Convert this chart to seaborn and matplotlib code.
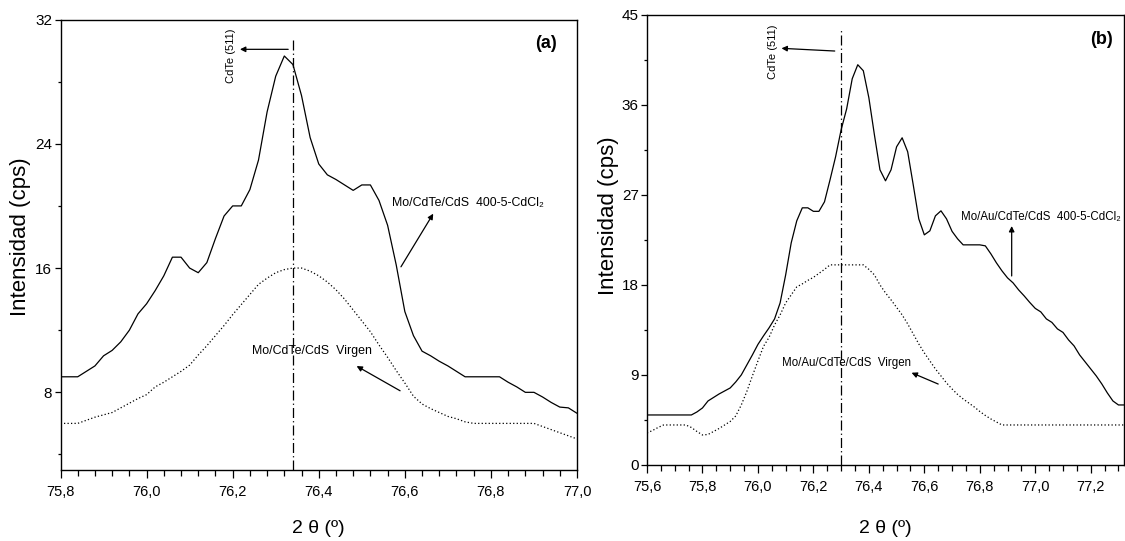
import matplotlib
matplotlib.use("Agg")
import matplotlib.pyplot as plt
from matplotlib import font_manager
from matplotlib.ticker import MultipleLocator, FuncFormatter
import pandas as pd
import seaborn as sns

# ---------------- data: XRD scans around the CdTe (511) reflection ----------------
two_theta_a = [
    75.80, 75.82, 75.84, 75.86, 75.88, 75.90, 75.92, 75.94, 75.96, 75.98,
    76.00, 76.02, 76.04, 76.06, 76.08, 76.10, 76.12, 76.14, 76.16, 76.18,
    76.20, 76.22, 76.24, 76.26, 76.28, 76.30, 76.32, 76.34, 76.36, 76.38,
    76.40, 76.42, 76.44, 76.46, 76.48, 76.50, 76.52, 76.54, 76.56, 76.58,
    76.60, 76.62, 76.64, 76.66, 76.68, 76.70, 76.72, 76.74, 76.76, 76.78,
    76.80, 76.82, 76.84, 76.86, 76.88, 76.90, 76.92, 76.94, 76.96, 76.98, 77.00,
]
counts_a_annealed = [
    9.0, 9.0, 9.0, 9.35, 9.7, 10.35, 10.7, 11.25, 12.0, 13.05,
    13.7, 14.55, 15.5, 16.7, 16.7, 16.0, 15.7, 16.35, 17.9, 19.35,
    20.0, 20.0, 21.05, 22.95, 26.05, 28.35, 29.65, 29.1, 27.1, 24.4,
    22.7, 22.0, 21.7, 21.35, 21.0, 21.35, 21.35, 20.35, 18.75, 16.2,
    13.2, 11.65, 10.65, 10.35, 10.0, 9.7, 9.35, 9.0, 9.0, 9.0,
    9.0, 9.0, 8.65, 8.35, 8.0, 8.0, 7.7, 7.35, 7.05, 7.0, 6.65,
]
counts_a_virgin = [
    6.0, 6.0, 6.0, 6.2, 6.4, 6.55, 6.7, 7.0, 7.3, 7.6,
    7.85, 8.35, 8.65, 9.0, 9.35, 9.75, 10.4, 11.0, 11.65, 12.3,
    13.0, 13.65, 14.3, 14.95, 15.35, 15.7, 15.9, 16.0, 16.0, 15.8,
    15.5, 15.1, 14.6, 14.0, 13.3, 12.6, 11.9, 11.05, 10.25, 9.4,
    8.6, 7.75, 7.25, 6.95, 6.7, 6.45, 6.3, 6.1, 6.0, 6.0,
    6.0, 6.0, 6.0, 6.0, 6.0, 6.0, 5.8, 5.6, 5.4, 5.2, 5.0,
]

two_theta_b = [
    75.60, 75.62, 75.64, 75.66, 75.68, 75.70, 75.72, 75.74, 75.76, 75.78,
    75.80, 75.82, 75.84, 75.86, 75.88, 75.90, 75.92, 75.94, 75.96, 75.98,
    76.00, 76.02, 76.04, 76.06, 76.08, 76.10, 76.12, 76.14, 76.16, 76.18,
    76.20, 76.22, 76.24, 76.26, 76.28, 76.30, 76.32, 76.34, 76.36, 76.38,
    76.40, 76.42, 76.44, 76.46, 76.48, 76.50, 76.52, 76.54, 76.56, 76.58,
    76.60, 76.62, 76.64, 76.66, 76.68, 76.70, 76.72, 76.74, 76.76, 76.78,
    76.80, 76.82, 76.84, 76.86, 76.88, 76.90, 76.92, 76.94, 76.96, 76.98,
    77.00, 77.02, 77.04, 77.06, 77.08, 77.10, 77.12, 77.14, 77.16, 77.18,
    77.20, 77.22, 77.24, 77.26, 77.28, 77.30, 77.32,
]
counts_b_annealed = [
    5.0, 5.0, 5.0, 5.0, 5.0, 5.0, 5.0, 5.0, 5.0, 5.3,
    5.7, 6.4, 6.75, 7.1, 7.4, 7.7, 8.3, 9.0, 10.0, 11.0,
    12.05, 12.9, 13.7, 14.6, 16.2, 19.0, 22.2, 24.4, 25.7, 25.7,
    25.35, 25.35, 26.3, 28.5, 30.8, 33.5, 35.6, 38.6, 40.0, 39.4,
    36.7, 33.0, 29.5, 28.4, 29.5, 31.8, 32.7, 31.3, 28.0, 24.6,
    23.0, 23.4, 24.9, 25.4, 24.6, 23.35, 22.6, 22.0, 22.0, 22.0,
    22.0, 21.9, 21.1, 20.2, 19.4, 18.7, 18.2, 17.5, 16.9, 16.25,
    15.65, 15.3, 14.6, 14.25, 13.6, 13.25, 12.5, 11.9, 11.0, 10.3,
    9.6, 8.9, 8.1, 7.2, 6.4, 6.0, 6.0,
]
counts_b_virgin = [
    3.2, 3.45, 3.75, 4.0, 4.0, 4.0, 4.0, 4.0, 3.75, 3.35,
    3.0, 3.05, 3.35, 3.65, 4.0, 4.35, 4.9, 6.0, 7.35, 8.9,
    10.4, 11.85, 12.75, 14.0, 15.0, 16.2, 17.0, 17.8, 18.1, 18.45,
    18.75, 19.15, 19.55, 20.0, 20.0, 20.0, 20.0, 20.0, 20.0, 20.0,
    19.55, 19.0, 18.0, 17.2, 16.5, 15.75, 15.0, 14.1, 13.1, 12.1,
    11.2, 10.4, 9.6, 8.9, 8.2, 7.6, 7.05, 6.6, 6.2, 5.8,
    5.35, 4.95, 4.6, 4.3, 4.0, 4.0, 4.0, 4.0, 4.0, 4.0,
    4.0, 4.0, 4.0, 4.0, 4.0, 4.0, 4.0, 4.0, 4.0, 4.0,
    4.0, 4.0, 4.0, 4.0, 4.0, 4.0, 4.0,
]

peak_position_a = 76.34
peak_position_b = 76.30

# ---------------- style ----------------
sns.set_style("ticks")
plt.rcParams["font.family"] = ["Liberation Sans", "DejaVu Sans"]
plt.rcParams["axes.edgecolor"] = "black"
plt.rcParams["axes.linewidth"] = 1.0
plt.rcParams["text.color"] = "black"
plt.rcParams["axes.labelcolor"] = "black"
plt.rcParams["xtick.color"] = "black"
plt.rcParams["ytick.color"] = "black"


def installed(family):
    try:
        font_manager.findfont(font_manager.FontProperties(family=family),
                              fallback_to_default=False)
        return True
    except ValueError:
        return False


if installed("Liberation Sans Narrow"):
    note_family = ["Liberation Sans Narrow", "DejaVu Sans"]
    note_scale = 1.2
else:
    note_family = ["Liberation Sans", "DejaVu Sans"]
    note_scale = 1.0

comma = FuncFormatter(lambda v, _: f"{v:.1f}".replace(".", ","))
solid = dict(color="black", linewidth=0.9)
dotted = dict(color="black", linewidth=0.9, linestyle=(0, (1, 1.8)))
dashdot = (0, (8, 2.5, 1, 2.5))
arrow = dict(arrowstyle="-|>", color="black", lw=0.9, mutation_scale=8,
             shrinkA=0, shrinkB=0)

W, H = 1125, 541
fig = plt.figure(figsize=(W / 100, H / 100), dpi=100)
ax_a = fig.add_axes([60.5 / W, (H - 470) / H, 516.5 / W, 450.5 / H])
ax_b = fig.add_axes([647 / W, (H - 465) / H, 477 / W, 450.3 / H])


def draw_scan(ax, x, annealed, virgin):
    scan = pd.DataFrame({"two_theta": x, "annealed": annealed, "virgin": virgin})
    sns.lineplot(data=scan, x="two_theta", y="annealed", ax=ax,
                 estimator=None, sort=False, **solid)
    sns.lineplot(data=scan, x="two_theta", y="virgin", ax=ax,
                 estimator=None, sort=False, **dotted)


def style_axes(ax, xlim, ylim, xmajor, xminor, ymajor, yminor, ylab_xy, xlab_y):
    ax.set_xlim(*xlim)
    ax.set_ylim(*ylim)
    ax.xaxis.set_major_locator(MultipleLocator(xmajor))
    ax.xaxis.set_minor_locator(MultipleLocator(xminor))
    ax.yaxis.set_major_locator(MultipleLocator(ymajor))
    ax.yaxis.set_minor_locator(MultipleLocator(yminor))
    ax.xaxis.set_major_formatter(comma)
    ax.tick_params(axis="x", which="major", direction="out", length=6,
                   width=0.9, labelsize=10.5, pad=5, colors="black")
    ax.tick_params(axis="x", which="minor", direction="out", length=4,
                   width=0.9, colors="black")
    ax.tick_params(axis="y", which="major", direction="out", length=4,
                   width=0.9, labelsize=11, pad=2, colors="black")
    ax.tick_params(axis="y", which="minor", direction="out", length=2.5,
                   width=0.9, colors="black")
    for side in ("top", "right", "left", "bottom"):
        ax.spines[side].set_visible(True)
        ax.spines[side].set_linewidth(1.0)
        ax.spines[side].set_color("black")
    ax.set_xlabel("2 θ (º)", fontsize=14, color="black")
    ax.set_ylabel("Intensidad (cps)", fontsize=16, color="black")
    ax.xaxis.label.set_va("center")
    ax.yaxis.label.set_va("center")
    ax.xaxis.set_label_coords(0.5, xlab_y)
    ax.yaxis.set_label_coords(*ylab_xy)


# ---------------- panel (a) ----------------
draw_scan(ax_a, two_theta_a, counts_a_annealed, counts_a_virgin)
style_axes(ax_a, (75.8, 77.0), (3, 32), 0.2, 0.04, 8, 4, (-0.078, 0.518), -0.129)
ax_a.vlines(peak_position_a, 3, 30.9, colors="black", linewidth=0.9,
            linestyles=[dashdot])
ax_a.annotate("", xy=(76.217, 30.08), xytext=(76.329, 30.08), arrowprops=arrow)
ax_a.text(76.195, 29.66, "CdTe (511)", rotation=90, ha="center", va="center",
          fontsize=8)
ax_a.text(76.928, 30.47, "(a)", ha="center", va="center", fontsize=13,
          fontweight="bold")
ax_a.text(76.57, 20.2, "Mo/CdTe/CdS  400-5-CdCl₂", ha="left", va="center",
          fontsize=8.9 * note_scale, family=note_family)
ax_a.annotate("", xy=(76.666, 19.5), xytext=(76.591, 16.08), arrowprops=arrow)
ax_a.text(76.246, 10.67, "Mo/CdTe/CdS  Virgen", ha="left", va="center",
          fontsize=8.9 * note_scale, family=note_family)
ax_a.annotate("", xy=(76.488, 9.69), xytext=(76.589, 8.10), arrowprops=arrow)

# ---------------- panel (b) ----------------
draw_scan(ax_b, two_theta_b, counts_b_annealed, counts_b_virgin)
style_axes(ax_b, (75.6, 77.32), (0, 45), 0.2, 0.05, 9, 4.5, (-0.081, 0.554), -0.14)
ax_b.vlines(peak_position_b, 0, 43.6, colors="black", linewidth=0.9,
            linestyles=[dashdot])
ax_b.annotate("", xy=(76.085, 41.64), xytext=(76.277, 41.37), arrowprops=arrow)
ax_b.text(76.055, 41.3, "CdTe (511)", rotation=90, ha="center", va="center",
          fontsize=8)
ax_b.text(77.238, 42.55, "(b)", ha="center", va="center", fontsize=13,
          fontweight="bold")
ax_b.text(76.732, 24.78, "Mo/Au/CdTe/CdS  400-5-CdCl₂", ha="left", va="center",
          fontsize=8.3 * note_scale, family=note_family)
ax_b.annotate("", xy=(76.915, 23.88), xytext=(76.915, 18.89), arrowprops=arrow)
ax_b.text(76.085, 10.16, "Mo/Au/CdTe/CdS  Virgen", ha="left", va="center",
          fontsize=8.3 * note_scale, family=note_family)
ax_b.annotate("", xy=(76.554, 9.22), xytext=(76.65, 8.09), arrowprops=arrow)

fig.savefig("out.png", dpi=100)
